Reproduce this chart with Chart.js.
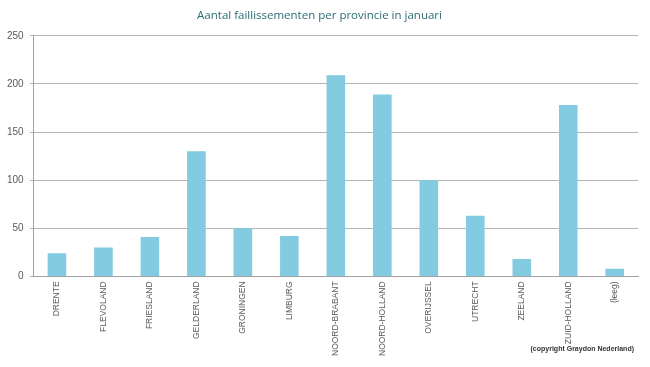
<!DOCTYPE html>
<html>
<head>
<meta charset="utf-8">
<script src="https://cdn.jsdelivr.net/npm/chart.js@4"></script>
<style>
  html, body { margin: 0; padding: 0; background: #fff; }
  #wrap { position: relative; width: 650px; height: 367px; }
  #copy {
    position: absolute; right: 16px; top: 345px;
    font: bold 7px "Liberation Sans", Arial, sans-serif; color: #333;
  }
</style>
</head>
<body>
<div id="wrap">
  <canvas id="chart1" width="650" height="367"></canvas>
  <div id="copy">(copyright Graydon Nederland)</div>
</div>
<script>
const provinces = ['DRENTE', 'FLEVOLAND', 'FRIESLAND', 'GELDERLAND', 'GRONINGEN', 'LIMBURG',
  'NOORD-BRABANT', 'NOORD-HOLLAND', 'OVERIJSSEL', 'UTRECHT', 'ZEELAND', 'ZUID-HOLLAND', '(leeg)'];
const faillissementen = [24, 30, 41, 130, 50, 42, 209, 189, 100, 63, 18, 178, 8];
const yTicks = [0, 50, 100, 150, 200, 250];

const ctx1 = document.querySelector('#chart1');

const chart1 = new Chart(ctx1, {
  type: 'bar',
  data: {
    labels: provinces,
    datasets: [{
      label: 'Aantal',
      data: faillissementen,
      backgroundColor: '#82cbe0',
      categoryPercentage: 0.4,
      barPercentage: 1
    }]
  },
  options: {
    responsive: false,
    animation: false,
    layout: { padding: { left: 1, right: 12, top: 0, bottom: 6 } },
    plugins: {
      legend: { display: false },
      tooltip: { enabled: false },
      title: {
        display: true,
        text: 'Aantal faillissementen per provincie in januari',
        color: '#2b6b78',
        font: { family: 'Open Sans', size: 11.5, weight: 'normal' },
        padding: { top: 9, bottom: 13 }
      }
    },
    scales: {
      x: {
        grid: { display: false, drawTicks: false },
        border: { color: '#a0a0a0' },
        ticks: {
          minRotation: 90,
          maxRotation: 90,
          autoSkip: false,
          padding: 5,
          color: '#595959',
          font: { family: 'Liberation Sans', size: 8.5 }
        }
      },
      y: {
        min: 0,
        max: 250,
        afterBuildTicks: (axis) => { axis.ticks = yTicks.map(v => ({ value: v })); },
        grid: { color: '#b4b4b4', tickLength: 4 },
        border: { color: '#a0a0a0' },
        ticks: {
          padding: 6,
          color: '#595959',
          font: { family: 'Liberation Sans', size: 10 }
        }
      }
    }
  }
});
</script>
</body>
</html>
